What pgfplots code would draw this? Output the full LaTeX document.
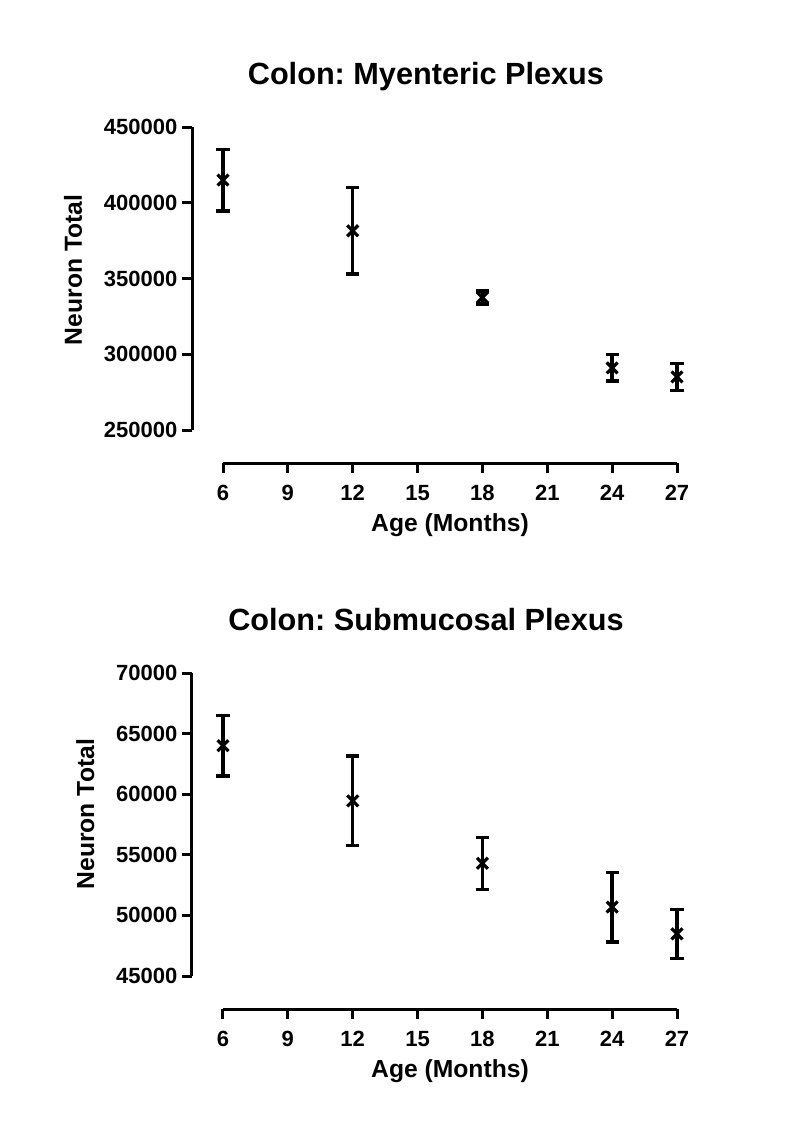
\documentclass[border=0pt]{standalone}
\usepackage{fontspec}
\setmainfont{Liberation Sans}
\usepackage{pgfplots}
\pgfplotsset{compat=1.18}
\frenchspacing

% 1 px of the reference = 0.75pt
\pgfplotsset{
  prism/.style={
    scale only axis,
    width=340.5pt, height=227.25pt,
    xmin=6, xmax=27, xtick={6,9,12,15,18,21,24,27},
    axis lines*=left,
    axis x line shift=24.75pt,
    axis y line shift=23.25pt,
    axis line style={line width=2.25pt},
    tick align=outside,
    major tick length=7.5pt,
    tick style={line width=2.25pt, black},
    /pgf/number format/assume math mode=true,
    ticklabel style={font=\fontsize{16.5}{18}\selectfont\bfseries},
    xticklabel style={anchor=north, inner sep=0pt, text height=11.8pt,
      text depth=0pt, yshift=-8.25pt},
    scaled y ticks=false,
    yticklabel style={/pgf/number format/fixed, /pgf/number format/1000 sep={}},
    xlabel={Age (Months)},
    ylabel={Neuron Total},
    label style={font=\fontsize{18.5}{20}\selectfont\bfseries},
    xlabel style={at={(axis description cs:0.5,-0.336)}, anchor=base},
    title style={at={(axis description cs:0.447,1.115)}, anchor=base,
      font=\fontsize{23}{26}\selectfont\bfseries},
    clip=false,
  },
  pts/.style={
    black, only marks, mark=x, mark size=5.8pt,
    mark options={line width=2.4pt},
    error bars/.cd, y dir=both, y explicit,
    error bar style={line width=2.6pt},
    error mark=|,
    error mark options={line width=2.6pt, mark size=4.9pt},
  },
}

\pgfplotstableread{
x   y       e
6   415000  20300
12  381500  28500
18  337500  4300
24  291000  8700
27  285000  8800
}\myenteric

\pgfplotstableread{
x   y      e
6   64000  2500
12  59450  3700
18  54300  2150
24  50690  2870
27  48480  2020
}\submucosal

\begin{document}
\begin{tikzpicture}
\path[use as bounding box] (0,0) rectangle (600pt,-859.5pt);

\begin{axis}[prism,
  at={(167.25pt,-322.5pt)}, anchor=south west,
  ymin=250000, ymax=450000, ytick={250000,300000,...,450000},
  title={Colon: Myenteric Plexus},
  ylabel style={at={(axis description cs:-0.311,0.528)}, anchor=base},
]
\addplot[pts] table[x=x, y=y, y error=e] {\myenteric};
\end{axis}

\begin{axis}[prism,
  at={(167.25pt,-732pt)}, anchor=south west,
  ymin=45000, ymax=70000, ytick={45000,50000,...,70000},
  title={Colon: Submucosal Plexus},
  ylabel style={at={(axis description cs:-0.284,0.534)}, anchor=base},
]
\addplot[pts] table[x=x, y=y, y error=e] {\submucosal};
\end{axis}
\end{tikzpicture}
\end{document}
